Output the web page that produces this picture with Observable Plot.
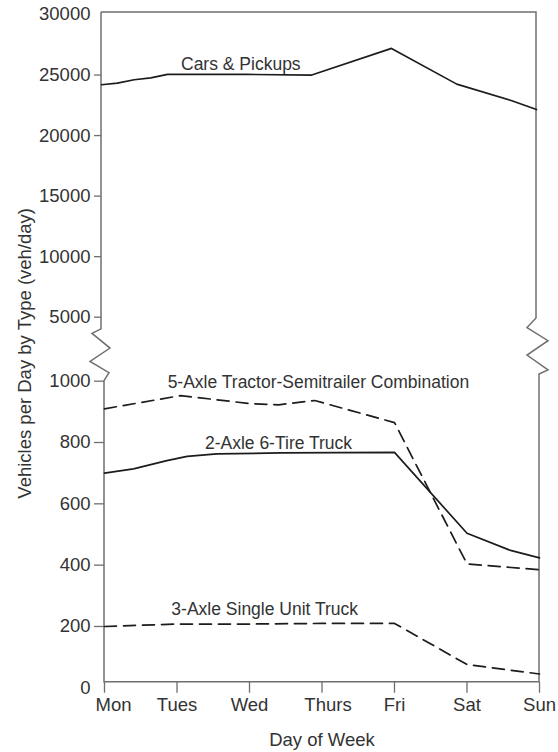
<!DOCTYPE html>
<html><head><meta charset="utf-8">
<script src="https://cdn.jsdelivr.net/npm/d3@7"></script>
<script src="https://cdn.jsdelivr.net/npm/@observablehq/plot@0.6"></script>
<style>
html,body{margin:0;padding:0;background:#fff;}
#chart svg{display:block;}
</style></head><body><div id="chart"></div>
<script>
const days = ["Mon","Tues","Wed","Thurs","Fri","Sat","Sun"];
const lowerTicks = [200,400,600,800,1000];
const upperTicks = [5000,10000,15000,20000,25000];
const carsDay = [0,0.22,0.45,0.68,0.91,2,2.9,4,4.9,5.65,6];
const carsVal = [24200,24330,24610,24770,25050,25050,25000,27200,24250,22900,22150];
const fiveAxleDay = [0,1.05,2,2.4,2.9,4,5,6];
const fiveAxleVal = [910,953,927,923,937,865,404,385];
const twoAxleDay = [0,0.4,0.86,1.14,1.55,2.43,4,5,5.6,6];
const twoAxleVal = [700,714,741,755,763,766,768,504,448,424];
const threeAxleDay = [0,1,2,3,4,5,6];
const threeAxleVal = [200,208,208,210,210,76,45];
const labelText = ["Cars & Pickups","5-Axle Tractor-Semitrailer Combination","2-Axle 6-Tire Truck","3-Axle Single Unit Truck"];
const labelDay = [1.88,2.95,2.4,2.21];
const labelVal = [25380,978,780,236];

const zip = (ds, vs) => ds.map((d, i) => ({day: d, value: vs[i]}));
const cars = zip(carsDay, carsVal);
const five = zip(fiveAxleDay, fiveAxleVal);
const two = zip(twoAxleDay, twoAxleVal);
const three = zip(threeAxleDay, threeAxleVal);
const labels = labelText.map((t, i) => ({text: t, day: labelDay[i], value: labelVal[i]}));

const FRAME = "#6f6f6f", INK = "#1c1c1c", TXT = "#333";

function frameMark(index, scales, values, dims) {
  const x = scales.x, y = scales.y;
  const x0 = x(0), x6 = x(6);
  const top = dims.marginTop, bottom = dims.height - dims.marginBottom;
  const y5 = y(5000), y1 = y(1000), g = y1 - y5;
  const at = f => y5 + f * g;
  const pts = [
    [x0 - 3, top], [x0 - 3, at(0.19)], [x0 - 12, at(0.26)], [x0 + 6, at(0.49)],
    [x0 - 14, at(0.70)], [x0 + 5, at(0.875)], [x0, y1], [x0, bottom],
    [x6, bottom], [x6, at(0.895)], [x6 + 9, at(0.83)], [x6 - 12, at(0.6)],
    [x6 + 9, at(0.375)], [x6 - 12, at(0.17)], [x6 - 3, at(0.02)], [x6 - 3, top], [x0 - 3, top]
  ];
  return d3.create("svg:path")
    .attr("d", d3.line()(pts))
    .attr("fill", "none").attr("stroke", FRAME).attr("stroke-width", 1.5)
    .node();
}

const fmt = d => String(d);
const dayFmt = i => days[i];
const chart = Plot.plot({
  width: 558, height: 752,
  marginLeft: 104, marginRight: 19, marginTop: 12, marginBottom: 70.3,
  style: {fontFamily: '"Liberation Sans", Arial, sans-serif', fontSize: "18.5px", background: "#fff", color: TXT},
  x: {type: "linear", domain: [0, 6]},
  y: {type: "linear", domain: [0, 1000, 5000, 30000], range: [687.3, 380.7, 316.7, 14]},
  marks: [
    frameMark,
    Plot.axisY(lowerTicks, {tickSize: 10, tickPadding: 4, tickFormat: fmt, label: null, stroke: FRAME, strokeWidth: 1.3, fill: TXT, fontSize: 18.5}),
    Plot.axisY([0], {tickSize: 0, tickPadding: 14, tickFormat: fmt, label: null, fill: TXT, fontSize: 18.5}),
    Plot.axisY(upperTicks, {tickSize: 7, tickPadding: 4, tickFormat: fmt, label: null, dx: -3, stroke: FRAME, strokeWidth: 1.3, fill: TXT, fontSize: 18.5}),
    Plot.axisY([30000], {tickSize: 0, tickPadding: 11, tickFormat: fmt, label: null, dx: -3, fill: TXT, fontSize: 18.5}),
    Plot.axisX(d3.range(7), {tickSize: 11, tickPadding: 5, tickFormat: () => "", label: null, stroke: FRAME, strokeWidth: 1.3}),
    Plot.axisX([1, 2, 4, 5, 6], {tickSize: 0, tickPadding: 16, tickFormat: dayFmt, label: null, fill: TXT, fontSize: 18.5}),
    Plot.axisX([0], {tickSize: 0, tickPadding: 16, tickFormat: dayFmt, label: null, fill: TXT, fontSize: 18.5, dx: 9}),
    Plot.axisX([3], {tickSize: 0, tickPadding: 16, tickFormat: dayFmt, label: null, fill: TXT, fontSize: 18.5, dx: 6}),
    Plot.line(cars, {x: "day", y: "value", stroke: INK, strokeWidth: 1.7, dx: -3}),
    Plot.line(two, {x: "day", y: "value", stroke: INK, strokeWidth: 1.7}),
    Plot.line(five, {x: "day", y: "value", stroke: INK, strokeWidth: 1.7, strokeDasharray: "12,7"}),
    Plot.line(three, {x: "day", y: "value", stroke: INK, strokeWidth: 1.7, strokeDasharray: "12,7"}),
    Plot.text(labels, {x: "day", y: "value", text: "text", lineAnchor: "bottom", fontSize: 17.5, fill: TXT}),
    Plot.text(["Vehicles per Day by Type (veh/day)"], {frameAnchor: "left", textAnchor: "middle", rotate: -90, dx: -79, dy: 6, fontSize: 18.5, fill: TXT}),
    Plot.text(["Day of Week"], {frameAnchor: "bottom", textAnchor: "middle", lineAnchor: "bottom", dy: 63.3, fontSize: 18.5, fill: TXT})
  ]
});
document.getElementById("chart").appendChild(chart);
</script>
</body></html>
